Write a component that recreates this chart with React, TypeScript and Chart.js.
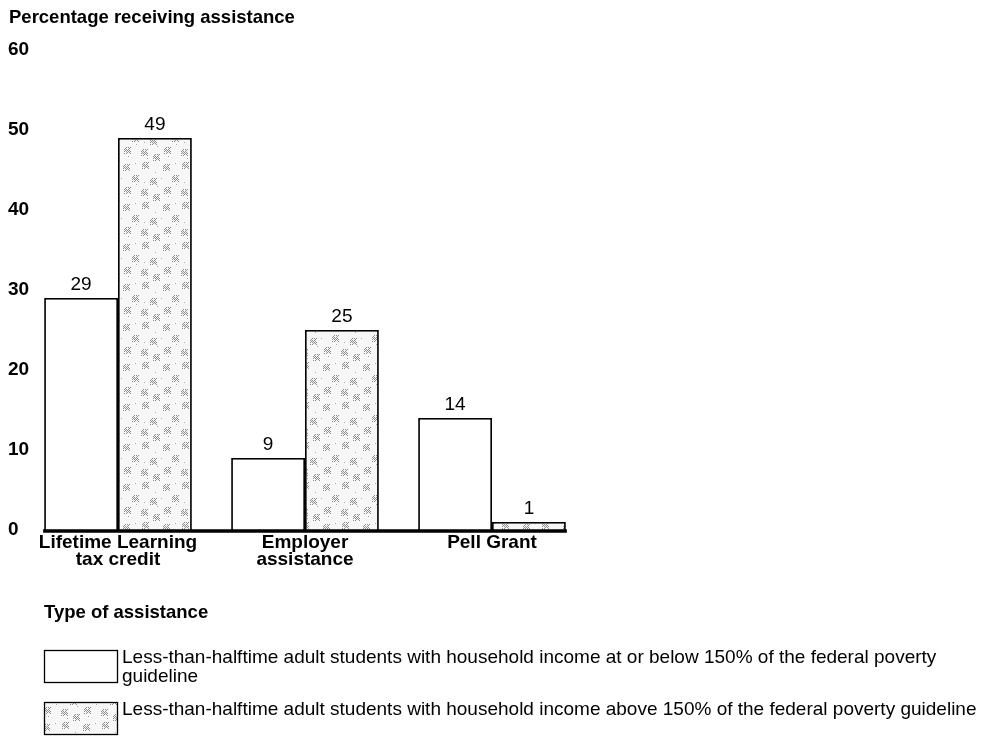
import React, { useEffect, useRef } from "react";
import { Chart, registerables } from "chart.js";

Chart.register(...registerables);

const categories: string[][] = [["Lifetime Learning", "tax credit"], ["Employer", "assistance"], ["Pell Grant"]];
const belowValues = [29, 9, 14];
const aboveValues = [49, 25, 1];
const seriesLabels = [
  ["Less-than-halftime adult students with household income at or below 150% of the federal poverty", "guideline"],
  ["Less-than-halftime adult students with household income above 150% of the federal poverty guideline"],
];
const yTitle = "Percentage receiving assistance";
const xTitle = "Type of assistance";
const yMin = 0;
const yMax = 60;
const yStep = 10;

const FONT = "'Liberation Sans', Arial, Helvetica, sans-serif";

function makePattern(): CanvasPattern | string {
  const S = 40;
  const c = document.createElement("canvas");
  c.width = S;
  c.height = S;
  const g = c.getContext("2d");
  if (!g) return "#e0e0e0";
  g.fillStyle = "#f7f7f7";
  g.fillRect(0, 0, S, S);
  const clusters = [
    [3, 4], [22, 2], [12, 15], [30, 18], [4, 27], [21, 29], [33, 34],
  ];
  g.fillStyle = "#8c8c8c";
  for (const [cx, cy] of clusters) {
    for (let dx = 0; dx < 7; dx++) {
      for (let dy = 0; dy < 7; dy++) {
        if ((dx + dy) % 2 === 0 && (dx * 3 + dy * 5) % 7 !== 0) {
          g.fillRect((cx + dx) % S, (cy + dy) % S, 1, 1);
        }
      }
    }
  }
  g.fillStyle = "#a8a8a8";
  const specks = [[9, 10], [16, 24], [28, 8], [37, 26], [8, 36], [27, 38], [15, 3], [1, 18], [35, 12], [24, 22]];
  for (const [x, y] of specks) g.fillRect(x, y, 1, 1);
  const p = g.createPattern(c, "repeat");
  return p || "#e0e0e0";
}

const annotate = {
  id: "annotate",
  afterDatasetsDraw(chart: any) {
    const ctx = chart.ctx as CanvasRenderingContext2D;
    const y = chart.scales.y;
    ctx.save();
    ctx.fillStyle = "#000";
    ctx.font = `19px ${FONT}`;
    ctx.textAlign = "center";
    ctx.textBaseline = "bottom";
    chart.data.datasets.forEach((ds: any, di: number) => {
      const meta = chart.getDatasetMeta(di);
      meta.data.forEach((bar: any, i: number) => {
        ctx.fillText(String(ds.data[i]), bar.x, bar.y - 4);
      });
    });
    const m0 = chart.getDatasetMeta(0).data;
    const m1 = chart.getDatasetMeta(1).data;
    const first = m0[0];
    const last = m1[m1.length - 1];
    const y0 = y.getPixelForValue(0);
    ctx.strokeStyle = "#000";
    ctx.lineWidth = 3.5;
    ctx.beginPath();
    ctx.moveTo(first.x - first.width / 2 - 1, y0 + 1);
    ctx.lineTo(last.x + last.width / 2 + 1, y0 + 1);
    ctx.stroke();
    ctx.restore();
  },
  afterDraw(chart: any) {
    const ctx = chart.ctx as CanvasRenderingContext2D;
    const y = chart.scales.y;
    ctx.save();
    ctx.fillStyle = "#000";
    ctx.textAlign = "left";
    ctx.textBaseline = "middle";
    // y tick labels from the library's scale
    ctx.font = `bold 19px ${FONT}`;
    y.ticks.forEach((t: any) => {
      ctx.fillText(String(t.value), 8, y.getPixelForValue(t.value));
    });
    ctx.font = `bold 18.5px ${FONT}`;
    ctx.fillText(yTitle, 9, 18);
    ctx.fillText(xTitle, 44, 613);
    const boxes = [650.5, 702.5];
    chart.data.datasets.forEach((ds: any, di: number) => {
      const by = boxes[di];
      ctx.fillStyle = ds.backgroundColor;
      ctx.fillRect(44.5, by, 73, 32);
      ctx.strokeStyle = "#000";
      ctx.lineWidth = 1.3;
      ctx.strokeRect(44.5, by, 73, 32);
      ctx.fillStyle = "#000";
      ctx.font = `19px ${FONT}`;
      seriesLabels[di].forEach((line, li) => {
        ctx.fillText(line, 122, by + 7 + li * 19);
      });
    });
    ctx.restore();
  },
};

export default function App() {
  const ref = useRef<HTMLCanvasElement>(null);
  useEffect(() => {
    document.body.style.margin = "0";
    const canvas = ref.current;
    if (!canvas) return;
    const pattern = makePattern();
    const chart = new Chart(canvas, {
      type: "bar",
      data: {
        labels: categories,
        datasets: [
          {
            label: seriesLabels[0].join(" "),
            data: belowValues,
            backgroundColor: "#ffffff",
            borderColor: "#000",
            borderWidth: 1.8,
            borderSkipped: "bottom",
          },
          {
            label: seriesLabels[1].join(" "),
            data: aboveValues,
            backgroundColor: pattern as any,
            borderColor: "#000",
            borderWidth: 1.8,
            borderSkipped: "bottom",
          },
        ],
      },
      options: {
        animation: false,
        responsive: false,
        maintainAspectRatio: false,
        devicePixelRatio: 1,
        layout: { padding: { left: 8, right: 396.5, top: 50, bottom: 0 } },
        categoryPercentage: 0.79,
        barPercentage: 1,
        plugins: { legend: { display: false }, tooltip: { enabled: false }, title: { display: false } },
        scales: {
          x: {
            offset: true,
            grid: { display: false, drawTicks: false },
            border: { display: false },
            ticks: {
              color: "#000",
              font: { family: FONT, size: 19, weight: "bold", lineHeight: 0.9 },
              padding: 4,
              maxRotation: 0,
              autoSkip: false,
            },
            afterFit(scale: any) {
              scale.height = 206;
            },
          },
          y: {
            min: yMin,
            max: yMax,
            grid: { display: false, drawTicks: false },
            border: { display: false },
            ticks: {
              stepSize: yStep,
              display: false,
            },
            afterFit(scale: any) {
              scale.width = 16.5;
            },
          },
        },
      } as any,
      plugins: [annotate],
    });
    return () => chart.destroy();
  }, []);
  return (
    <div style={{ width: 982, height: 736, background: "#fff" }}>
      <canvas ref={ref} width={982} height={736} style={{ display: "block", width: 982, height: 736 }} />
    </div>
  );
}
